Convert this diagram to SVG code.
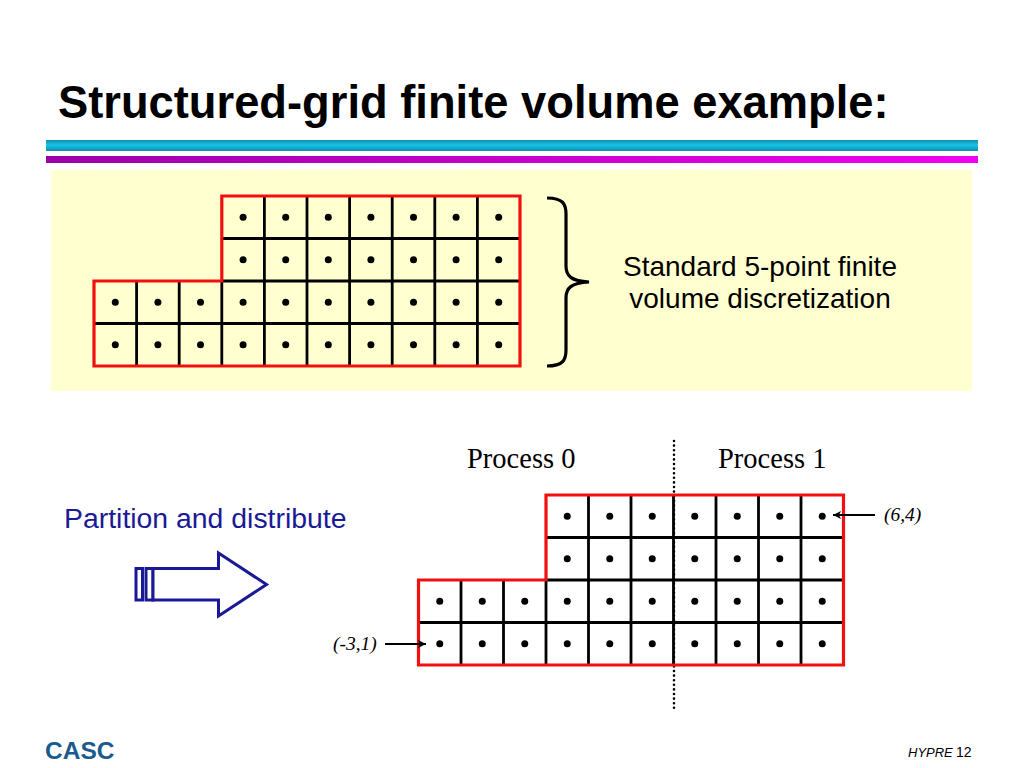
<svg xmlns="http://www.w3.org/2000/svg" width="1024" height="768" viewBox="0 0 1024 768">
<defs>
<linearGradient id="cy" x1="0" y1="0" x2="0" y2="1"><stop offset="0" stop-color="#0e8fb0"/><stop offset="0.45" stop-color="#18c4e8"/><stop offset="1" stop-color="#0e8fb0"/></linearGradient>
<linearGradient id="mg" x1="0" y1="0" x2="1" y2="0"><stop offset="0" stop-color="#9c00a8"/><stop offset="1" stop-color="#f000f0"/></linearGradient>
<marker id="ah" viewBox="0 0 10 10" refX="10" refY="5" markerWidth="9" markerHeight="8" markerUnits="userSpaceOnUse" orient="auto"><path d="M0,0 L10,5 L0,10 L2.5,5 Z" fill="#000"/></marker>
<style>
.g{stroke:#000;stroke-width:2.8;fill:none}
.o{stroke:#f01010;stroke-width:3.2;fill:none;stroke-linejoin:miter}
.d{fill:#000}
.sans{font-family:"Liberation Sans",Arial,sans-serif}
.serif{font-family:"Liberation Serif","Times New Roman",serif}
.nv{stroke:#1a1a96;stroke-width:3;fill:#fff}
</style>
</defs>
<rect width="1024" height="768" fill="#fff"/>
<text x="58" y="118" class="sans" font-size="45.3" font-weight="bold" fill="#000">Structured-grid finite volume example:</text>
<rect x="46" y="140" width="932" height="11" fill="url(#cy)"/>
<rect x="46" y="156" width="932" height="7" fill="url(#mg)"/>
<rect x="51" y="170" width="921" height="221" fill="#ffffcf"/>

<g id="top-grid">
<path class="g" d="M221.8,238.5H520M221.8,281H520M94,323.5H520M136.6,281V366M179.2,281V366M221.8,281V366M264.4,196V366M307,196V366M349.6,196V366M392.2,196V366M434.8,196V366M477.4,196V366"/>
<path class="o" d="M221.8,196H520V366H94V281H221.8Z"/>
<g class="d">
<circle cx="243.1" cy="217.25" r="3.5"/><circle cx="285.7" cy="217.25" r="3.5"/><circle cx="328.3" cy="217.25" r="3.5"/><circle cx="370.9" cy="217.25" r="3.5"/><circle cx="413.5" cy="217.25" r="3.5"/><circle cx="456.1" cy="217.25" r="3.5"/><circle cx="498.7" cy="217.25" r="3.5"/>
<circle cx="243.1" cy="259.75" r="3.5"/><circle cx="285.7" cy="259.75" r="3.5"/><circle cx="328.3" cy="259.75" r="3.5"/><circle cx="370.9" cy="259.75" r="3.5"/><circle cx="413.5" cy="259.75" r="3.5"/><circle cx="456.1" cy="259.75" r="3.5"/><circle cx="498.7" cy="259.75" r="3.5"/>
<circle cx="115.3" cy="302.25" r="3.5"/><circle cx="157.9" cy="302.25" r="3.5"/><circle cx="200.5" cy="302.25" r="3.5"/><circle cx="243.1" cy="302.25" r="3.5"/><circle cx="285.7" cy="302.25" r="3.5"/><circle cx="328.3" cy="302.25" r="3.5"/><circle cx="370.9" cy="302.25" r="3.5"/><circle cx="413.5" cy="302.25" r="3.5"/><circle cx="456.1" cy="302.25" r="3.5"/><circle cx="498.7" cy="302.25" r="3.5"/>
<circle cx="115.3" cy="344.75" r="3.5"/><circle cx="157.9" cy="344.75" r="3.5"/><circle cx="200.5" cy="344.75" r="3.5"/><circle cx="243.1" cy="344.75" r="3.5"/><circle cx="285.7" cy="344.75" r="3.5"/><circle cx="328.3" cy="344.75" r="3.5"/><circle cx="370.9" cy="344.75" r="3.5"/><circle cx="413.5" cy="344.75" r="3.5"/><circle cx="456.1" cy="344.75" r="3.5"/><circle cx="498.7" cy="344.75" r="3.5"/>
</g>
</g>

<g id="brace">
<path d="M547,198 C563,198 566,204 566,214 V266 C566,276 571,281 589,282 C571,283 566,288 566,298 V350 C566,360 563,366 547,366" fill="none" stroke="#000" stroke-width="3.2"/>
</g>
<g id="brace-label" class="sans" font-size="28" fill="#000" text-anchor="middle">
<text x="760" y="276">Standard 5-point finite</text>
<text x="760" y="308">volume discretization</text>
</g>

<g id="partition">
<text x="64" y="528" class="sans" font-size="28.4" fill="#1a1a96">Partition and distribute</text>
<rect class="nv" x="136" y="568.5" width="6.5" height="31.5"/>
<rect class="nv" x="146" y="568.5" width="7" height="31.5"/>
<path class="nv" d="M153,568.5H218.5V553L266.5,584.5L218.5,616V600H153Z"/>
</g>

<g id="labels" class="serif" font-size="28.5" fill="#000">
<text x="467" y="468">Process 0</text>
<text x="718" y="468">Process 1</text>
</g>

<g id="divider">
<line x1="674" y1="441" x2="674" y2="710" stroke="#000" stroke-width="2.6" stroke-linecap="round" stroke-dasharray="0 4.6"/>
</g>

<g id="bottom-grid">
<path class="g" d="M546,537.5H843.5M546,580H843.5M418.5,622.5H843.5M461,580V665M503.5,580V665M546,580V665M588.5,495V665M631,495V665M673.5,495V665M716,495V665M758.5,495V665M801,495V665"/>
<path class="o" d="M546,495H843.5V665H418.5V580H546Z"/>
<g class="d">
<circle cx="567.25" cy="516.25" r="3.5"/><circle cx="609.75" cy="516.25" r="3.5"/><circle cx="652.25" cy="516.25" r="3.5"/><circle cx="694.75" cy="516.25" r="3.5"/><circle cx="737.25" cy="516.25" r="3.5"/><circle cx="779.75" cy="516.25" r="3.5"/><circle cx="822.25" cy="516.25" r="3.5"/>
<circle cx="567.25" cy="558.75" r="3.5"/><circle cx="609.75" cy="558.75" r="3.5"/><circle cx="652.25" cy="558.75" r="3.5"/><circle cx="694.75" cy="558.75" r="3.5"/><circle cx="737.25" cy="558.75" r="3.5"/><circle cx="779.75" cy="558.75" r="3.5"/><circle cx="822.25" cy="558.75" r="3.5"/>
<circle cx="439.75" cy="601.25" r="3.5"/><circle cx="482.25" cy="601.25" r="3.5"/><circle cx="524.75" cy="601.25" r="3.5"/><circle cx="567.25" cy="601.25" r="3.5"/><circle cx="609.75" cy="601.25" r="3.5"/><circle cx="652.25" cy="601.25" r="3.5"/><circle cx="694.75" cy="601.25" r="3.5"/><circle cx="737.25" cy="601.25" r="3.5"/><circle cx="779.75" cy="601.25" r="3.5"/><circle cx="822.25" cy="601.25" r="3.5"/>
<circle cx="439.75" cy="643.75" r="3.5"/><circle cx="482.25" cy="643.75" r="3.5"/><circle cx="524.75" cy="643.75" r="3.5"/><circle cx="567.25" cy="643.75" r="3.5"/><circle cx="609.75" cy="643.75" r="3.5"/><circle cx="652.25" cy="643.75" r="3.5"/><circle cx="694.75" cy="643.75" r="3.5"/><circle cx="737.25" cy="643.75" r="3.5"/><circle cx="779.75" cy="643.75" r="3.5"/><circle cx="822.25" cy="643.75" r="3.5"/>
</g>
</g>

<g id="coord-labels" class="serif" font-size="19.5" font-style="italic" fill="#000">
<text x="884" y="521">(6,4)</text>
<text x="333" y="650">(-3,1)</text>
</g>

<g id="connectors" stroke="#000" stroke-width="2" fill="none">
<line x1="875" y1="515" x2="833" y2="515" marker-end="url(#ah)"/>
<line x1="385" y1="644" x2="426" y2="644" marker-end="url(#ah)"/>
</g>

<g id="footer">
<text x="45" y="759" class="sans" font-size="24.5" font-weight="bold" fill="#1a5a8c">CASC</text>
<text x="908" y="757" class="sans" font-size="13" font-style="italic" fill="#000">HYPRE</text>
<text x="956" y="757" class="sans" font-size="14" fill="#000">12</text>
</g>
</svg>
